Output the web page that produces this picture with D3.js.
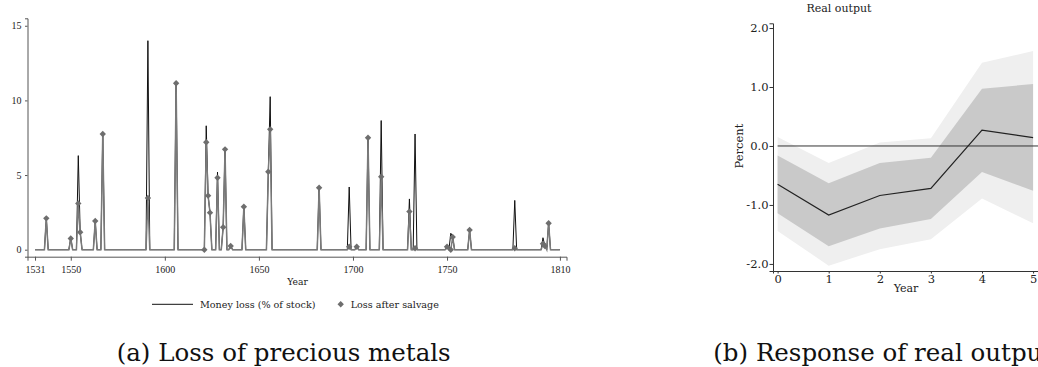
<!DOCTYPE html>
<html>
<head>
<meta charset="utf-8">
<script src="https://cdn.jsdelivr.net/npm/d3@7"></script>
<style>
  body { margin: 0; background: #fff; }
  svg { display: block; }
</style>
</head>
<body>
<svg width="1038" height="367"></svg>
<script>
// ---- panel (a): money loss, % of stock (nonzero years only, other years are 0)
var moneyYears = [1537, 1550, 1554, 1555, 1563, 1567, 1591, 1606, 1622, 1623, 1624, 1628, 1631, 1632, 1635, 1642,
	1655, 1656, 1682, 1698, 1702, 1708, 1715, 1730, 1733, 1750, 1752, 1753, 1762, 1786, 1801, 1802, 1804];
var moneyLoss = [2.1, 0.8, 6.3, 1.2, 1.9, 7.75, 14.0, 11.15, 8.3, 3.6, 2.5, 5.2, 1.5, 6.7, 0.25, 2.9,
	5.2, 10.25, 4.15, 4.2, 0.2, 7.5, 8.65, 3.4, 7.75, 0.2, 1.1, 0.85, 1.3, 3.3, 0.8, 0.25, 1.8];

// loss after salvage (diamonds)
var salvageYears = [1537, 1550, 1554, 1555, 1563, 1567, 1591, 1606, 1621, 1622, 1623, 1624, 1628, 1631, 1632, 1635,
	1642, 1655, 1656, 1682, 1698, 1702, 1708, 1715, 1730, 1733, 1750, 1752, 1753, 1762, 1786, 1801, 1802, 1804];
var salvageLoss = [2.1, 0.75, 3.1, 1.17, 1.92, 7.75, 3.46, 11.15, 0, 7.2, 3.62, 2.48, 4.82, 1.5, 6.72, 0.25,
	2.88, 5.22, 8.06, 4.15, 0.2, 0.2, 7.5, 4.89, 2.55, 0.1, 0.2, 0, 0.85, 1.32, 0.1, 0.4, 0.25, 1.77];

var yearTicks = [1531, 1550, 1600, 1650, 1700, 1750, 1810];
var lossTicks = [0, 5, 10, 15];

// ---- panel (b): response of real output
var irfYears = [0, 1, 2, 3, 4, 5];
var irfPoint = [-0.65, -1.17, -0.84, -0.72, 0.27, 0.14];
var irfInnerLo = [-1.14, -1.70, -1.40, -1.24, -0.44, -0.76];
var irfInnerHi = [-0.16, -0.63, -0.29, -0.20, 0.97, 1.05];
var irfOuterLo = [-1.44, -2.03, -1.75, -1.58, -0.89, -1.31];
var irfOuterHi = [0.15, -0.29, 0.06, 0.13, 1.41, 1.61];
var pctTicks = [-2, -1, 0, 1, 2];

var svg = d3.select("svg");
var serif = "'DejaVu Serif', serif";
var digits = "'Liberation Serif', serif";

// =========== left chart
var x = d3.scaleLinear().domain([1527, 1813.5]).range([27.5, 566.5]);
var y = d3.scaleLinear().domain([-0.47, 15.5]).range([256.7, 18.3]);

// annual series built from the tables above
var years = d3.range(1531, 1811);
var moneyMap = new Map(moneyYears.map(function(d, i) { return [d, moneyLoss[i]]; }));
var salvMap = new Map(salvageYears.map(function(d, i) { return [d, salvageLoss[i]]; }));
var moneySeries = years.map(function(d) { return {year: d, v: moneyMap.get(d) || 0}; });
var salvSeries = years.map(function(d) { return {year: d, v: salvMap.get(d) || 0}; });

var g1 = svg.append("g");

// axes
var xAx = g1.append("g")
	.attr("transform", "translate(0,256.7)")
	.call(d3.axisBottom(x).tickValues(yearTicks).tickSize(4).tickPadding(5).tickFormat(d3.format("d")));
var yAx = g1.append("g")
	.attr("transform", "translate(27.5,0)")
	.call(d3.axisLeft(y).tickValues(lossTicks).tickSize(2.5).tickPadding(3.5));
[xAx, yAx].forEach(function(a) {
	a.select(".domain").attr("stroke", "#555");
	a.selectAll(".tick line").attr("stroke", "#555");
	a.selectAll("text").attr("font-family", digits).attr("font-size", 10).attr("fill", "#222");
});

var line = d3.line()
	.x(function(d) { return x(d.year); })
	.y(function(d) { return y(d.v); });

g1.append("path").datum(moneySeries)
	.attr("d", line).attr("fill", "none")
	.attr("stroke", "#111").attr("stroke-width", 1);
g1.append("path").datum(salvSeries)
	.attr("d", line).attr("fill", "none")
	.attr("stroke", "#7a7a7a").attr("stroke-width", 1.5);

var diamond = d3.symbol().type(d3.symbolDiamond2).size(26);
g1.selectAll("path.salv")
	.data(salvageYears).enter().append("path")
	.attr("class", "salv")
	.attr("d", diamond)
	.attr("fill", "#6e6e6e")
	.attr("transform", function(d, i) { return "translate(" + x(d) + "," + y(salvageLoss[i]) + ")"; });

g1.append("text").attr("x", 297.5).attr("y", 284.5)
	.attr("text-anchor", "middle").attr("font-family", serif).attr("font-size", 9.2).attr("fill", "#222")
	.text("Year");

// legend
g1.append("line").attr("x1", 152).attr("x2", 193).attr("y1", 304.3).attr("y2", 304.3)
	.attr("stroke", "#111").attr("stroke-width", 1);
g1.append("text").attr("x", 200).attr("y", 307.6)
	.attr("font-family", serif).attr("font-size", 9.6).attr("fill", "#222")
	.text("Money loss (% of stock)");
g1.append("path").attr("d", diamond).attr("fill", "#6e6e6e")
	.attr("transform", "translate(340.7,304.3)");
g1.append("text").attr("x", 350.7).attr("y", 307.6)
	.attr("font-family", serif).attr("font-size", 9.6).attr("fill", "#222")
	.text("Loss after salvage");

svg.append("text").attr("x", 116.7).attr("y", 360.5)
	.attr("font-family", serif).attr("font-size", 24.5).attr("fill", "#111")
	.text("(a) Loss of precious metals");

// =========== right chart
var x2 = d3.scaleLinear().domain([-0.09, 5.2]).range([773, 1043.3]);
var y2 = d3.scaleLinear().domain([-2.12, 2.08]).range([271, 23.3]);

var g2 = svg.append("g");

var band = function(lo, hi) {
	return d3.area()
		.x(function(d) { return x2(d); })
		.y0(function(d, i) { return y2(lo[i]); })
		.y1(function(d, i) { return y2(hi[i]); });
};
g2.append("path").datum(irfYears).attr("d", band(irfOuterLo, irfOuterHi)).attr("fill", "#efefef");
g2.append("path").datum(irfYears).attr("d", band(irfInnerLo, irfInnerHi)).attr("fill", "#c9c9c9");

g2.append("line")
	.attr("x1", x2(0)).attr("x2", x2(5.2))
	.attr("y1", y2(0)).attr("y2", y2(0))
	.attr("stroke", "#333").attr("stroke-width", 1);

g2.append("path").datum(irfYears)
	.attr("d", d3.line().x(function(d) { return x2(d); }).y(function(d, i) { return y2(irfPoint[i]); }))
	.attr("fill", "none").attr("stroke", "#222").attr("stroke-width", 1.2);

var xAx2 = g2.append("g")
	.attr("transform", "translate(0,271)")
	.call(d3.axisBottom(x2).tickValues(irfYears).tickSize(2.5).tickPadding(1.5).tickFormat(d3.format("d")));
var yAx2 = g2.append("g")
	.attr("transform", "translate(773,0)")
	.call(d3.axisLeft(y2).tickValues(pctTicks).tickSize(3.5).tickPadding(1)
		.tickFormat(function(d) { return d.toFixed(1); }));
[xAx2, yAx2].forEach(function(a) {
	a.select(".domain").attr("stroke", "#333");
	a.selectAll(".tick line").attr("stroke", "#333");
	a.selectAll("text").attr("font-family", serif).attr("font-size", 11.5).attr("fill", "#222");
});

g2.append("text").attr("x", 906).attr("y", 291.7)
	.attr("text-anchor", "middle").attr("font-family", serif).attr("font-size", 11).attr("fill", "#222")
	.text("Year");
g2.append("text")
	.attr("transform", "translate(743,146) rotate(-90)")
	.attr("text-anchor", "middle").attr("font-family", serif).attr("font-size", 11.5).attr("fill", "#222")
	.text("Percent");
g2.append("text").attr("x", 839).attr("y", 12)
	.attr("text-anchor", "middle").attr("font-family", serif).attr("font-size", 11).attr("fill", "#222")
	.text("Real output");

// caption runs past the right edge, as in the source picture
svg.append("text").attr("x", 713.3).attr("y", 360.5)
	.attr("font-family", serif).attr("font-size", 24.5).attr("fill", "#111")
	.text("(b) Response of real output");
</script>
</body>
</html>
